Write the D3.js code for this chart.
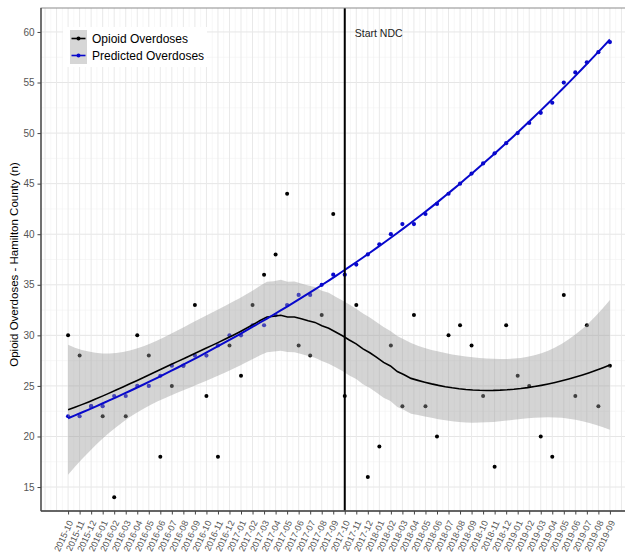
<!DOCTYPE html>
<html>
<head>
<meta charset="utf-8">
<script src="https://cdn.jsdelivr.net/npm/d3@7"></script>
<style>
  body { margin: 0; background: #fff; }
  svg { display: block; font-family: "Liberation Sans", Arial, sans-serif; }
</style>
</head>
<body>
<svg id="chart" width="625" height="556"></svg>
<script>
const months = [
  "2015-10", "2015-11", "2015-12", "2016-01", "2016-02", "2016-03", "2016-04", "2016-05",
  "2016-06", "2016-07", "2016-08", "2016-09", "2016-10", "2016-11", "2016-12", "2017-01",
  "2017-02", "2017-03", "2017-04", "2017-05", "2017-06", "2017-07", "2017-08", "2017-09",
  "2017-10", "2017-11", "2017-12", "2018-01", "2018-02", "2018-03", "2018-04", "2018-05",
  "2018-06", "2018-07", "2018-08", "2018-09", "2018-10", "2018-11", "2018-12", "2019-01",
  "2019-02", "2019-03", "2019-04", "2019-05", "2019-06", "2019-07", "2019-08", "2019-09"
];

const observed = [
  30, 28, 23, 22, 14, 22, 30, 28, 18, 25, 27, 33, 24, 18, 29, 26,
  33, 36, 38, 44, 29, 28, 32, 42, 24, 33, 16, 19, 29, 23, 32, 23,
  20, 30, 31, 29, 24, 17, 31, 26, 25, 20, 18, 34, 24, 31, 23, 27
];

const predicted = [
  22, 22, 23, 23, 24, 24, 25, 25, 26, 27, 27, 28, 28, 29, 30, 30,
  31, 31, 32, 33, 34, 34, 35, 36, 36, 37, 38, 39, 40, 41, 41, 42,
  43, 44, 45, 46, 47, 48, 49, 50, 51, 52, 53, 55, 56, 57, 58, 59
];

const yTicks = [15, 20, 25, 30, 35, 40, 45, 50, 55, 60];
const ndcMonth = "2017-10";
const seriesNames = ["Opioid Overdoses", "Predicted Overdoses"];

const blue = "#0808cc";
const panel = { left: 41, right: 637, top: 8, bottom: 511 };

const svg = d3.select("#chart");

const x = d3.scaleLinear()
  .domain([-2.35, months.length - 1 + 2.35])
  .range([panel.left, panel.right]);

const y = d3.scaleLinear()
  .domain([12.63, 62.37])
  .range([panel.bottom, panel.top]);

// loess (degree 2, tricube, span 0.75) with standard errors, like geom_smooth
function loess(xs, ys, span, evalX) {
  const n = xs.length;
  const q = Math.floor(n * span);

  function rowAt(x0) {
    const d = xs.map(v => Math.abs(v - x0));
    const h = d.slice().sort((a, b) => a - b)[q - 1] * 1.0000001;
    const w = d.map(di => di < h ? Math.pow(1 - Math.pow(di / h, 3), 3) : 0);
    const M = [[0, 0, 0], [0, 0, 0], [0, 0, 0]];
    xs.forEach((v, i) => {
      const u = [1, v - x0, (v - x0) * (v - x0)];
      for (let a = 0; a < 3; a++)
        for (let b = 0; b < 3; b++) M[a][b] += w[i] * u[a] * u[b];
    });
    const inv = invert3(M);
    return xs.map((v, i) => {
      const u = [1, v - x0, (v - x0) * (v - x0)];
      return w[i] * (inv[0][0] * u[0] + inv[0][1] * u[1] + inv[0][2] * u[2]);
    });
  }

  const L = xs.map(rowAt);
  const fitted = L.map(r => d3.sum(r, (l, i) => l * ys[i]));
  const rss = d3.sum(fitted, (f, i) => (ys[i] - f) ** 2);

  // (I-L)'(I-L)
  const IL = L.map((r, i) => r.map((l, j) => (i === j ? 1 : 0) - l));
  const A = IL.map((_, i) => IL.map((_, j) => d3.sum(IL, r => r[i] * r[j])));
  const delta1 = d3.sum(A, (r, i) => r[i]);
  const delta2 = d3.sum(A, (r, i) => d3.sum(A, (r2, j) => r[j] * A[j][i]));
  const s = Math.sqrt(rss / delta1);
  const df = delta1 * delta1 / delta2;
  const z = 1.959964;
  const t = z + (z ** 3 + z) / (4 * df) + (5 * z ** 5 + 16 * z ** 3 + 3 * z) / (96 * df * df);

  return evalX.map(x0 => {
    const r = rowAt(x0);
    const fit = d3.sum(r, (l, i) => l * ys[i]);
    const se = s * Math.sqrt(d3.sum(r, l => l * l));
    return { x: x0, fit, lo: fit - t * se, hi: fit + t * se };
  });
}

function invert3(m) {
  const [a, b, c] = m[0], [d, e, f] = m[1], [g, h, k] = m[2];
  const A = e * k - f * h, B = -(d * k - f * g), C = d * h - e * g;
  const det = a * A + b * B + c * C;
  return [
    [A / det, -(b * k - c * h) / det, (b * f - c * e) / det],
    [B / det, (a * k - c * g) / det, -(a * f - c * d) / det],
    [C / det, -(a * h - b * g) / det, (a * e - b * d) / det]
  ];
}

const idx = months.map((_, i) => i);
const grid80 = d3.range(80).map(i => i * (months.length - 1) / 79);
const obsSmooth = loess(idx, observed, 0.75, grid80);
const predSmooth = loess(idx, predicted, 0.75, grid80);

// panel background + grid
svg.append("clipPath").attr("id", "panel-clip")
  .append("rect")
  .attr("x", panel.left).attr("y", panel.top)
  .attr("width", panel.right - panel.left).attr("height", panel.bottom - panel.top);

const g = svg.append("g").attr("clip-path", "url(#panel-clip)");

const minorY = d3.range(12.5, 62.5, 5);
g.selectAll(".minor-y").data(minorY).join("line")
  .attr("x1", panel.left).attr("x2", panel.right)
  .attr("y1", d => y(d)).attr("y2", d => y(d))
  .attr("stroke", "#f2f2f2").attr("stroke-width", 0.6);

const minorX = d3.range(-2.5, months.length + 2, 1);
g.selectAll(".minor-x").data(minorX).join("line")
  .attr("x1", d => x(d)).attr("x2", d => x(d))
  .attr("y1", panel.top).attr("y2", panel.bottom)
  .attr("stroke", "#f2f2f2").attr("stroke-width", 0.6);

g.selectAll(".major-y").data(yTicks).join("line")
  .attr("x1", panel.left).attr("x2", panel.right)
  .attr("y1", d => y(d)).attr("y2", d => y(d))
  .attr("stroke", "#e6e6e6").attr("stroke-width", 1);

g.selectAll(".major-x").data(d3.range(-2, months.length + 2)).join("line")
  .attr("x1", d => x(d)).attr("x2", d => x(d))
  .attr("y1", panel.top).attr("y2", panel.bottom)
  .attr("stroke", "#e9e9e9").attr("stroke-width", 1);

// points
g.selectAll(".obs").data(observed).join("circle")
  .attr("cx", (d, i) => x(i)).attr("cy", d => y(d))
  .attr("r", 2).attr("fill", "#000");

g.selectAll(".pred").data(predicted).join("circle")
  .attr("cx", (d, i) => x(i)).attr("cy", d => y(d))
  .attr("r", 2.1).attr("fill", blue);

// ribbon and smooth lines
g.append("path").datum(obsSmooth)
  .attr("d", d3.area().x(d => x(d.x)).y0(d => y(d.lo)).y1(d => y(d.hi)))
  .attr("fill", "#999999").attr("fill-opacity", 0.42);

g.append("path").datum(obsSmooth)
  .attr("d", d3.line().x(d => x(d.x)).y(d => y(d.fit)))
  .attr("fill", "none").attr("stroke", "#000").attr("stroke-width", 1.6);

g.append("path").datum(predSmooth)
  .attr("d", d3.line().x(d => x(d.x)).y(d => y(d.fit)))
  .attr("fill", "none").attr("stroke", blue).attr("stroke-width", 2);

// NDC start
const xNdc = x(months.indexOf(ndcMonth));
g.append("line")
  .attr("x1", xNdc).attr("x2", xNdc)
  .attr("y1", panel.top).attr("y2", panel.bottom)
  .attr("stroke", "#000").attr("stroke-width", 2);

svg.append("text")
  .attr("x", xNdc + 10).attr("y", 37)
  .attr("font-size", "10.5px").attr("fill", "#222")
  .text("Start NDC");

// panel border and axes
svg.append("rect")
  .attr("x", panel.left).attr("y", panel.top)
  .attr("width", panel.right - panel.left).attr("height", panel.bottom - panel.top)
  .attr("fill", "none").attr("stroke", "#8c8c8c").attr("stroke-width", 1);

svg.append("line")
  .attr("x1", panel.left).attr("x2", panel.left)
  .attr("y1", panel.top).attr("y2", panel.bottom)
  .attr("stroke", "#444").attr("stroke-width", 1.3);
svg.append("line")
  .attr("x1", panel.left).attr("x2", panel.right)
  .attr("y1", panel.bottom).attr("y2", panel.bottom)
  .attr("stroke", "#444").attr("stroke-width", 1.3);

const yAxis = svg.append("g")
  .attr("transform", `translate(${panel.left},0)`)
  .call(d3.axisLeft(y).tickValues(yTicks).tickSize(3.5).tickPadding(3));
yAxis.select(".domain").remove();
yAxis.selectAll("line").attr("stroke", "#444");
yAxis.selectAll("text").attr("fill", "#555").attr("font-size", "10px")
  .attr("font-family", "Liberation Sans, Arial, sans-serif");

const xAxis = svg.append("g")
  .attr("transform", `translate(0,${panel.bottom})`)
  .call(d3.axisBottom(x).tickValues(idx).tickSize(3.5).tickFormat(i => months[i]));
xAxis.select(".domain").remove();
xAxis.selectAll("line").attr("stroke", "#444");
xAxis.selectAll("text")
  .attr("fill", "#555").attr("font-size", "9px")
  .attr("font-family", "Liberation Sans, Arial, sans-serif")
  .attr("text-anchor", "end")
  .attr("x", 0).attr("y", 0).attr("dy", "0.35em")
  .attr("transform", "translate(2,10) rotate(-65)");

svg.append("text")
  .attr("transform", `translate(18,${(panel.top + panel.bottom) / 2 + 5}) rotate(-90)`)
  .attr("text-anchor", "middle")
  .attr("font-size", "11.5px").attr("fill", "#000")
  .text("Opioid Overdoses - Hamilton County (n)");

// legend
const legend = svg.append("g").attr("transform", "translate(63,27)");
legend.append("rect")
  .attr("width", 144).attr("height", 40).attr("fill", "#fff");
const legendColors = ["#000", blue];
seriesNames.forEach((name, i) => {
  const row = legend.append("g").attr("transform", `translate(7,${3 + i * 17})`);
  row.append("rect").attr("width", 17).attr("height", 17).attr("fill", "#d6d6d6");
  row.append("line")
    .attr("x1", 1.5).attr("x2", 15.5).attr("y1", 8.5).attr("y2", 8.5)
    .attr("stroke", legendColors[i]).attr("stroke-width", 1.6);
  row.append("circle").attr("cx", 8.5).attr("cy", 8.5).attr("r", 2)
    .attr("fill", legendColors[i]);
  row.append("text")
    .attr("x", 22).attr("y", 8.5).attr("dy", "0.35em")
    .attr("font-size", "12px").attr("fill", "#000")
    .text(name);
});
</script>
</body>
</html>
